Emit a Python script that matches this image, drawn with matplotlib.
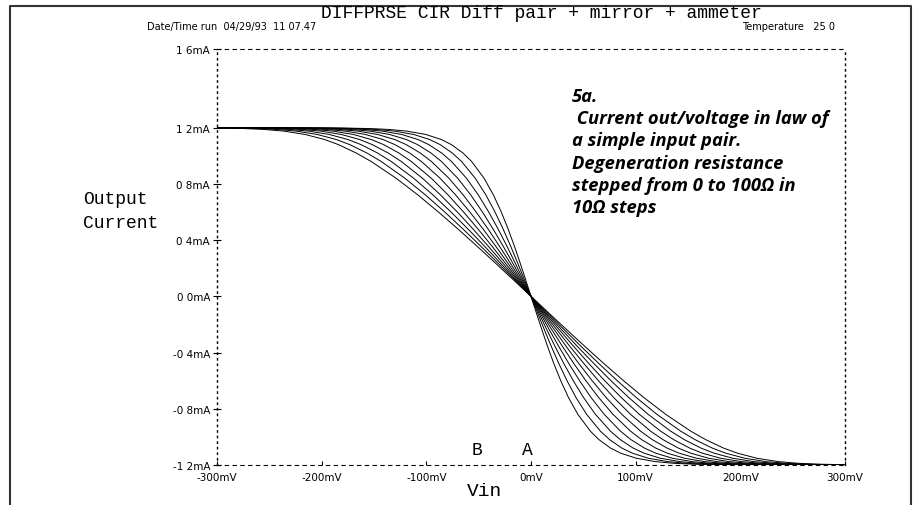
import numpy as np
import matplotlib.pyplot as plt

# output current levels (mA), shared by every sweep curve
i_out = [1.2, 1.1976, 1.194, 1.188, 1.176, 1.152, 1.116, 1.08, 1.02, 0.96,
         0.84, 0.72, 0.60, 0.48, 0.36, 0.24, 0.12, 0.0,
         -0.12, -0.24, -0.36, -0.48, -0.60, -0.72, -0.84, -0.96, -1.02,
         -1.08, -1.116, -1.152, -1.176, -1.188, -1.194, -1.1976, -1.2]

# input voltage (mV) at each current level, one list per degeneration step
vin_r0 = [-300, -178.5, -154.8, -136.8, -118.8, -100.6, -85.7, -76.1, -65.0, -56.8,
          -44.8, -35.8, -28.4, -21.9, -16.0, -10.5, -5.2, 0,
          5.2, 10.5, 16.0, 21.9, 28.4, 35.8, 44.8, 56.8, 65.0,
          76.1, 85.7, 100.6, 118.8, 136.8, 154.8, 178.5, 300]
vin_r10 = [-300, -190.5, -166.7, -148.7, -130.6, -112.1, -96.9, -86.9, -75.2, -66.4,
           -53.2, -43.0, -34.4, -26.7, -19.6, -12.9, -6.4, 0,
           6.4, 12.9, 19.6, 26.7, 34.4, 43.0, 53.2, 66.4, 75.2,
           86.9, 96.9, 112.1, 130.6, 148.7, 166.7, 190.5, 300]
vin_r20 = [-300, -202.5, -178.7, -160.6, -142.3, -123.6, -108.0, -97.7, -85.4, -76.0,
           -61.6, -50.2, -40.4, -31.5, -23.2, -15.3, -7.6, 0,
           7.6, 15.3, 23.2, 31.5, 40.4, 50.2, 61.6, 76.0, 85.4,
           97.7, 108.0, 123.6, 142.3, 160.6, 178.7, 202.5, 300]
vin_r30 = [-300, -214.5, -190.6, -172.5, -154.1, -135.2, -119.2, -108.5, -95.6, -85.6,
           -70.0, -57.4, -46.4, -36.3, -26.8, -17.7, -8.8, 0,
           8.8, 17.7, 26.8, 36.3, 46.4, 57.4, 70.0, 85.6, 95.6,
           108.5, 119.2, 135.2, 154.1, 172.5, 190.6, 214.5, 300]
vin_r40 = [-300, -226.4, -202.6, -184.3, -165.8, -146.7, -130.3, -119.3, -105.8, -95.2,
           -78.4, -64.6, -52.4, -41.1, -30.4, -20.1, -10.0, 0,
           10.0, 20.1, 30.4, 41.1, 52.4, 64.6, 78.4, 95.2, 105.8,
           119.3, 130.3, 146.7, 165.8, 184.3, 202.6, 226.4, 300]
vin_r50 = [-300, -238.4, -214.5, -196.2, -177.6, -158.2, -141.5, -130.1, -116.0, -104.8,
           -86.8, -71.8, -58.4, -45.9, -34.0, -22.5, -11.2, 0,
           11.2, 22.5, 34.0, 45.9, 58.4, 71.8, 86.8, 104.8, 116.0,
           130.1, 141.5, 158.2, 177.6, 196.2, 214.5, 238.4, 300]
vin_r60 = [-300, -250.4, -226.4, -208.1, -189.4, -169.7, -152.7, -140.9, -126.2, -114.4,
           -95.2, -79.0, -64.4, -50.7, -37.6, -24.9, -12.4, 0,
           12.4, 24.9, 37.6, 50.7, 64.4, 79.0, 95.2, 114.4, 126.2,
           140.9, 152.7, 169.7, 189.4, 208.1, 226.4, 250.4, 300]
vin_r70 = [-300, -262.4, -238.4, -220.0, -201.1, -181.2, -163.8, -151.7, -136.4, -124.0,
           -103.6, -86.2, -70.4, -55.5, -41.2, -27.3, -13.6, 0,
           13.6, 27.3, 41.2, 55.5, 70.4, 86.2, 103.6, 124.0, 136.4,
           151.7, 163.8, 181.2, 201.1, 220.0, 238.4, 262.4, 300]
vin_r80 = [-300, -274.3, -250.3, -231.8, -212.9, -192.8, -175.0, -162.5, -146.6, -133.6,
           -112.0, -93.4, -76.4, -60.3, -44.8, -29.7, -14.8, 0,
           14.8, 29.7, 44.8, 60.3, 76.4, 93.4, 112.0, 133.6, 146.6,
           162.5, 175.0, 192.8, 212.9, 231.8, 250.3, 274.3, 300]
vin_r90 = [-300, -286.3, -262.3, -243.7, -224.6, -204.3, -186.1, -173.3, -156.8, -143.2,
           -120.4, -100.6, -82.4, -65.1, -48.4, -32.1, -16.0, 0,
           16.0, 32.1, 48.4, 65.1, 82.4, 100.6, 120.4, 143.2, 156.8,
           173.3, 186.1, 204.3, 224.6, 243.7, 262.3, 286.3, 300]
vin_r100 = [-300, -298.3, -274.2, -255.6, -236.4, -215.8, -197.3, -184.1, -167.0, -152.8,
            -128.8, -107.8, -88.4, -69.9, -52.0, -34.5, -17.2, 0,
            17.2, 34.5, 52.0, 69.9, 88.4, 107.8, 128.8, 152.8, 167.0,
            184.1, 197.3, 215.8, 236.4, 255.6, 274.2, 298.3, 300]

sweeps = [vin_r0, vin_r10, vin_r20, vin_r30, vin_r40, vin_r50,
          vin_r60, vin_r70, vin_r80, vin_r90, vin_r100]

x_ticks = [-300, -200, -100, 0, 100, 200, 300]
x_labels = ["-300mV", "-200mV", "-100mV", "0mV", "100mV", "200mV", "300mV"]
y_ticks = [-1.2, -0.8, -0.4, 0.0, 0.4, 0.8, 1.2]
y_labels = ["-1 2mA", "-0 8mA", "-0 4mA", "0 0mA", "0 4mA", "0 8mA", "1 2mA"]
y_top_label = "1 6mA"
markers = {"B": -52, "A": -3}

W, H = 918, 506
mono = "Liberation Mono"


def fx(x):
    return x / W


def fy(y):
    return 1 - y / H


fig = plt.figure(figsize=(W / 100, H / 100), dpi=100)
ax = fig.add_axes([fx(217), fy(466), fx(845) - fx(217), fy(50) - fy(466)])

for v in sweeps:
    ax.plot(v, i_out, color="black", lw=0.7)

ax.set_xlim(-300, 300)
ax.set_ylim(-1.2, 1.76)
top = ax.get_ylim()[1]
ax.set_xticks(x_ticks)
ax.set_xticklabels(x_labels)
ax.set_yticks(y_ticks + [top])
ax.set_yticklabels(y_labels + [y_top_label])
ax.tick_params(axis="both", labelsize=7.5, colors="black", width=0.8)
ax.tick_params(axis="y", direction="inout", length=6, pad=2)
ax.tick_params(axis="x", direction="in", length=3, pad=5)

# plotter style frame: dashed top/bottom, dotted sides
for side in ["top", "bottom"]:
    ax.spines[side].set_linestyle((0, (3, 4)))
    ax.spines[side].set_linewidth(0.8)
for side in ["left", "right"]:
    ax.spines[side].set_linestyle((0, (1, 3)))
    ax.spines[side].set_linewidth(1.0)

# point markers on the sweep
for name, xv in markers.items():
    ax.text(xv, -1.2 + 0.05, name, family=mono, fontsize=13,
            ha="center", va="bottom")

fig.text(fx(541), fy(14), "DIFFPRSE CIR Diff pair + mirror + ammeter",
         family=mono, fontsize=13, ha="center", va="center")
fig.text(fx(147), fy(27), "Date/Time run  04/29/93  11 07.47",
         fontsize=7, ha="left", va="center")
fig.text(fx(835), fy(27), "Temperature   25 0",
         fontsize=7, ha="right", va="center")
fig.text(fx(83), fy(200), "Output", family=mono, fontsize=13, ha="left", va="center")
fig.text(fx(83), fy(224), "Current", family=mono, fontsize=13, ha="left", va="center")
fig.text(fx(485), fy(492), "Vin", family=mono, fontsize=14, ha="center", va="center")

note = ("5a.\n Current out/voltage in law of\na simple input pair.\n"
        "Degeneration resistance\nstepped from 0 to 100\u03a9 in\n10\u03a9 steps")
fig.text(fx(572), fy(88), note, family="Open Sans", style="italic", weight="bold",
         fontsize=13.2, ha="left", va="top", linespacing=1.3)

# outer page border
fig.add_artist(plt.Line2D([fx(10), fx(10), fx(911), fx(911)],
                          [0, fy(7), fy(7), 0], color="#333333", lw=1.5))

fig.savefig("out.png", dpi=100)
